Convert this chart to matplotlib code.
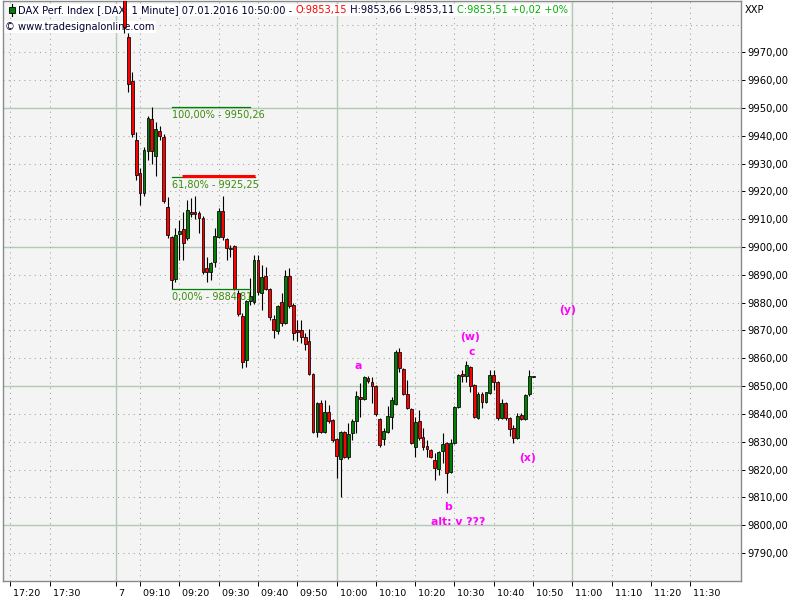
import matplotlib
matplotlib.use("Agg")
import matplotlib.pyplot as plt

# ─────────────────────────────────────────────────────
#  Data: DAX 1-minute candles, 07.01.2016 (bar 0 = 09:10)
# ─────────────────────────────────────────────────────
first_bar = -4

opens = [9995.0, 9975.5, 9959.7, 9938.5, 9926.6, 9919.4, 9934.5, 9946.0, 9932.7, 9941.9,
         9939.6, 9914.4, 9903.6, 9888.5, 9904.7, 9906.5, 9903.2, 9912.6, 9912.6, 9912.2,
         9910.4, 9892.4, 9891.0, 9894.6, 9903.6, 9913.0, 9902.9, 9899.6, 9900.4, 9883.5,
         9875.2, 9859.4, 9880.6, 9880.2, 9895.3, 9883.5, 9889.6, 9884.9, 9874.1, 9869.8,
         9880.2, 9872.7, 9889.6, 9879.1, 9870.1, 9870.1, 9867.6, 9866.2, 9854.3, 9833.5,
         9843.9, 9833.5, 9840.6, 9837.8, 9831.0, 9823.7, 9833.5, 9824.5, 9833.1, 9837.4,
         9846.0, 9845.3, 9852.9, 9851.4, 9850.0, 9838.1, 9830.9, 9833.5, 9838.8, 9843.5,
         9862.2, 9856.1, 9847.1, 9841.7, 9828.1, 9837.4, 9831.7, 9828.4, 9827.0, 9823.4,
         9820.1, 9826.6, 9829.5, 9819.1, 9829.5, 9842.4, 9854.3, 9853.6, 9856.8, 9850.4,
         9838.5, 9847.1, 9844.2, 9847.5, 9854.0, 9851.4, 9838.5, 9843.9, 9838.5, 9834.9,
         9831.3, 9839.6, 9838.1, 9847.1, 9853.15]
highs = [9998.0, 9977.0, 9963.0, 9941.5, 9928.4, 9936.0, 9947.1, 9950.26, 9945.0, 9943.5,
         9940.5, 9918.0, 9904.0, 9907.0, 9909.7, 9912.6, 9916.9, 9917.6, 9918.3, 9913.0,
         9911.1, 9896.4, 9894.6, 9906.8, 9914.0, 9918.3, 9903.2, 9900.7, 9900.7, 9884.5,
         9876.3, 9881.0, 9888.8, 9897.1, 9897.1, 9893.5, 9892.8, 9885.2, 9875.5, 9879.1,
         9883.5, 9891.7, 9892.4, 9879.9, 9873.7, 9873.7, 9869.0, 9870.5, 9854.6, 9844.2,
         9845.0, 9845.0, 9843.2, 9838.1, 9831.3, 9834.0, 9834.0, 9836.7, 9838.0, 9848.2,
         9851.1, 9853.6, 9853.6, 9853.2, 9850.4, 9838.5, 9834.9, 9842.8, 9846.0, 9863.0,
         9863.7, 9856.5, 9852.2, 9842.0, 9838.8, 9841.4, 9834.9, 9830.6, 9827.3, 9825.9,
         9826.6, 9833.1, 9829.9, 9830.9, 9842.8, 9854.3, 9855.8, 9859.0, 9857.2, 9850.7,
         9847.8, 9847.8, 9848.0, 9855.8, 9855.8, 9851.8, 9845.3, 9844.2, 9838.8, 9836.0,
         9840.3, 9840.4, 9847.1, 9855.8, 9853.66]
lows = [9977.0, 9955.8, 9939.5, 9924.0, 9915.1, 9918.4, 9931.3, 9930.0, 9925.5, 9938.6,
        9915.8, 9903.2, 9884.81, 9887.4, 9895.3, 9895.3, 9902.5, 9910.8, 9910.1, 9905.0,
        9890.3, 9887.4, 9888.1, 9892.8, 9903.2, 9902.5, 9895.3, 9896.4, 9884.5, 9875.2,
        9856.5, 9856.8, 9879.1, 9879.5, 9882.7, 9877.3, 9884.5, 9873.7, 9867.3, 9868.7,
        9871.6, 9872.3, 9878.1, 9866.5, 9866.2, 9865.5, 9863.0, 9853.9, 9833.1, 9831.7,
        9833.1, 9833.1, 9836.7, 9829.9, 9816.9, 9810.1, 9824.0, 9823.7, 9830.6, 9833.1,
        9838.8, 9845.0, 9851.1, 9843.9, 9839.2, 9828.1, 9828.8, 9833.1, 9834.5, 9843.2,
        9855.0, 9846.8, 9841.7, 9829.1, 9824.5, 9830.6, 9827.0, 9824.5, 9824.1, 9816.2,
        9818.0, 9822.3, 9811.5, 9818.7, 9829.0, 9842.0, 9851.6, 9851.4, 9847.8, 9838.5,
        9838.1, 9842.1, 9843.9, 9847.1, 9848.6, 9837.8, 9838.1, 9837.8, 9832.0, 9829.5,
        9831.0, 9837.8, 9837.8, 9846.4, 9853.11]
closes = [9979.0, 9958.6, 9940.6, 9925.9, 9919.4, 9934.9, 9946.4, 9934.5, 9942.4, 9940.1,
          9916.5, 9904.3, 9888.1, 9904.3, 9905.8, 9901.4, 9913.3, 9912.0, 9911.9, 9910.4,
          9891.0, 9891.0, 9894.2, 9904.0, 9913.0, 9903.6, 9899.6, 9899.3, 9884.9, 9875.9,
          9858.6, 9880.6, 9882.4, 9895.3, 9883.8, 9889.2, 9884.9, 9874.8, 9870.1, 9878.8,
          9872.7, 9889.6, 9878.8, 9869.1, 9869.4, 9867.6, 9865.1, 9854.3, 9833.5, 9843.9,
          9833.5, 9840.6, 9837.4, 9830.6, 9824.8, 9833.5, 9824.5, 9832.7, 9837.4, 9846.4,
          9845.3, 9853.2, 9851.8, 9850.0, 9839.9, 9828.8, 9833.8, 9839.2, 9845.0, 9862.2,
          9856.5, 9847.1, 9842.1, 9829.5, 9837.1, 9831.3, 9828.1, 9827.3, 9824.5, 9820.5,
          9826.3, 9829.1, 9818.7, 9829.5, 9842.4, 9854.0, 9853.6, 9857.6, 9850.0, 9838.8,
          9847.1, 9844.2, 9847.8, 9854.0, 9851.4, 9838.5, 9843.9, 9838.5, 9834.5, 9831.3,
          9839.2, 9838.1, 9846.8, 9853.6, 9853.51]

# x axis (bar positions relative to 09:10)
tick_pos = [-33, -23, -6, 0, 10, 20, 30, 40, 50, 60, 70, 80, 90, 100, 110, 120, 130, 140]
tick_lbl = ["17:20", "17:30", "7", "09:10", "09:20", "09:30", "09:40", "09:50", "10:00",
            "10:10", "10:20", "10:30", "10:40", "10:50", "11:00", "11:10", "11:20", "11:30"]
solid_x = [-6, 50, 110]

price_ticks = list(range(9790, 9980, 10))
grid_prices = list(range(9790, 9990, 10))

# Fibonacci retracement
fib_pct = ["100,00%", "61,80%", "0,00%"]
fib_lvl = [9950.26, 9925.25, 9884.81]
fib_start, fib_end = 8.07, 28.0

# Elliott wave labels
wave_txt = ["a", "(w)", "c", "(y)", "(x)", "b", "alt: v ???"]
wave_x = [55.5, 84.0, 84.5, 108.7, 98.7, 78.4, 80.9]
wave_y = [9857.2, 9867.6, 9862.2, 9877.3, 9824.1, 9806.5, 9801.1]

# ─────────────────────────────────────────────────────
#  Style
# ─────────────────────────────────────────────────────
C_UP, C_DN = "#008000", "#ff0000"
C_GRID_SOLID = "#b4c9b4"
C_GRID_DOT = "#a0a0a0"
FS = 7.1

plt.rcParams["font.family"] = "DejaVu Sans"

fig = plt.figure(figsize=(8, 6), dpi=100)
ax = fig.add_axes([2.5 / 800, 19 / 600, 738.5 / 800, 580 / 600])
ax.set_facecolor("#f4f4f4")
ax.set_xlim(-35.0, 152.9)
ax.set_ylim(9779.9, 9988.5)

# grid
for p in grid_prices:
    if p % 50 == 0:
        ax.axhline(p, color=C_GRID_SOLID, lw=1.0, zorder=0.5)
    else:
        ax.axhline(p, color=C_GRID_DOT, lw=0.75, ls=(0, (1, 4)), zorder=0.5)
for t in tick_pos:
    if t in solid_x:
        ax.axvline(t, color=C_GRID_SOLID, lw=1.0, zorder=0.5)
    else:
        ax.axvline(t, color=C_GRID_DOT, lw=0.75, ls=(0, (1, 4)), zorder=0.5)

# candles
xs = [first_bar + k for k in range(len(opens))]
ax.vlines(xs, lows, highs, color="black", lw=0.8, zorder=3)
body_lo = [min(o, c) for o, c in zip(opens, closes)]
body_h = [max(abs(c - o), 0.25) for o, c in zip(opens, closes)]
body_c = [C_UP if c >= o else C_DN for o, c in zip(opens, closes)]
ax.bar(xs, body_h, bottom=body_lo, width=0.72, color=body_c,
       edgecolor="black", linewidth=0.55, zorder=4)

# Fibonacci lines
for pct, lvl in zip(fib_pct, fib_lvl):
    end = fib_end + 1.3 if pct == "61,80%" else fib_end
    ax.plot([fib_start, end], [lvl, lvl], color="#008000", lw=0.9, zorder=5)
    ax.annotate(f"{pct} - {lvl:.2f}".replace(".", ","), xy=(fib_start, lvl),
                xytext=(0.5, -2), textcoords="offset points", ha="left", va="top",
                fontsize=7, color="#3c8a0c", zorder=5)
ax.plot([10.6, 29.3], [fib_lvl[1] + 0.45] * 2, color="#ff0000", lw=2.2,
        solid_capstyle="butt", zorder=5)

# wave labels
for txt, x, y in zip(wave_txt, wave_x, wave_y):
    ax.text(x, y, txt, ha="center", va="center", fontsize=7.8, fontweight="bold",
            color="#ff00ff", zorder=6)

# header
ax.plot([0.0125, 0.0125], [0.975, 0.994], transform=ax.transAxes, color="black",
        lw=0.8, zorder=2)
ax.plot([0.0125], [0.9845], transform=ax.transAxes, marker="s", ms=4.5,
        mfc="#008000", mec="black", mew=0.6, zorder=2)
box = dict(facecolor="white", edgecolor="none", pad=1.0)
t1 = ax.text(0.021, 0.9845, "DAX Perf. Index [.DAX  1 Minute] 07.01.2016 10:50:00 - ",
             transform=ax.transAxes, ha="left", va="center", fontsize=FS,
             color="#000030", bbox=box, zorder=2)
t2 = ax.annotate("O:9853,15", xy=(1, 0.5), xycoords=t1, ha="left", va="center",
                 fontsize=FS, color="#ff0000", bbox=box, zorder=2)
t3 = ax.annotate(" H:9853,66 L:9853,11 ", xy=(1, 0.5), xycoords=t2, ha="left",
                 va="center", fontsize=FS, color="#000030", bbox=box, zorder=2)
ax.annotate("C:9853,51 +0,02 +0%", xy=(1, 0.5), xycoords=t3, ha="left", va="center",
            fontsize=FS, color="#00b000", bbox=box, zorder=2)
ax.text(0.0035, 0.955, "© www.tradesignalonline.com", transform=ax.transAxes,
        ha="left", va="center", fontsize=FS, color="#000030", bbox=box, zorder=2)

# axes
ax.yaxis.tick_right()
ax.set_yticks(price_ticks, [f"{p:.2f}".replace(".", ",") for p in price_ticks])
ax.set_xticks(tick_pos, [" " + s for s in tick_lbl], ha="left")
ax.tick_params(axis="y", direction="out", length=3, width=0.7, pad=1.5,
               labelsize=7.2, colors="black")
ax.tick_params(axis="x", direction="out", length=3.5, width=0.7, pad=2,
               labelsize=6.8, colors="black")
for s in ax.spines.values():
    s.set_color("#8a8a8a")
    s.set_linewidth(1.0)

fig.text(745 / 800, 1 - 10 / 600, "XXP", ha="left", va="center", fontsize=FS)

fig.savefig("out.png", dpi=100, facecolor="white")
